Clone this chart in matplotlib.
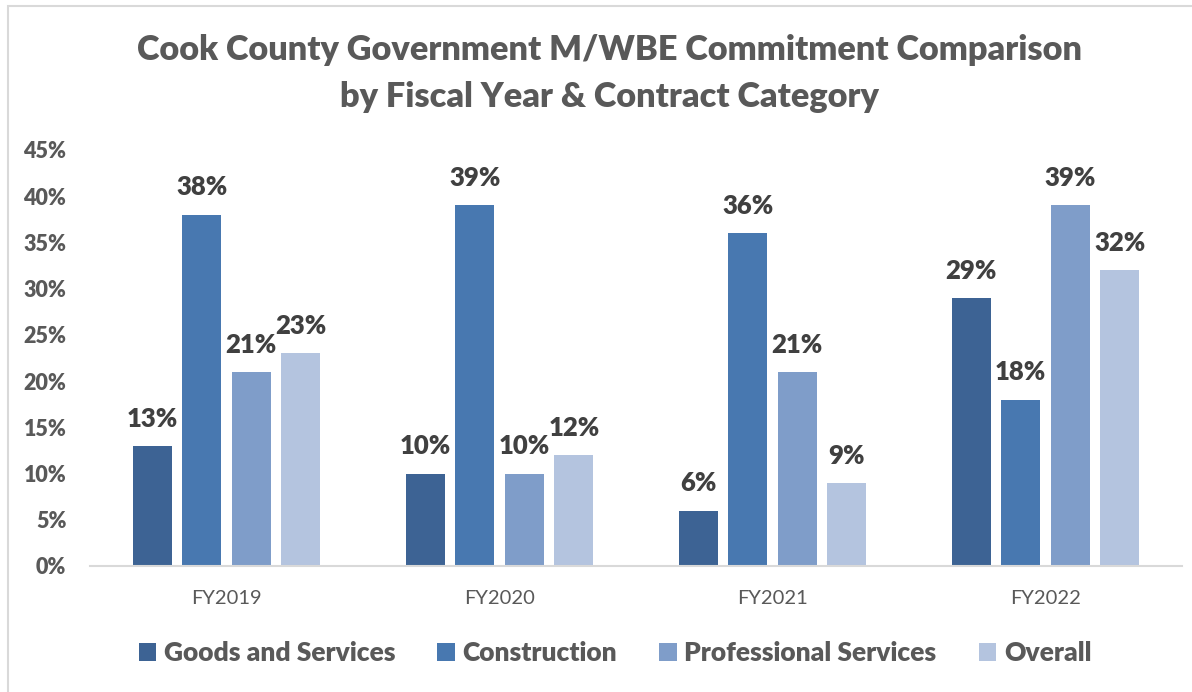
import numpy as np
import matplotlib
matplotlib.use('Agg')
import matplotlib.pyplot as plt
from matplotlib.patches import Patch, Rectangle

plt.rcParams['font.family'] = ['Lato', 'DejaVu Sans']

# Données du graphique
annees = ['FY2019', 'FY2020', 'FY2021', 'FY2022']
categories = ['Goods and Services', 'Construction', 'Professional Services', 'Overall']
goods = [13, 10, 6, 29]
construction = [38, 39, 36, 18]
professional = [21, 10, 21, 39]
overall = [23, 12, 9, 32]
couleurs = ['#3D6394', '#4878B0', '#7F9DC9', '#B4C4DF']

series = [goods, construction, professional, overall]

fig = plt.figure(figsize=(11.92, 6.92), dpi=100)
# bordure du graphique (seulement gauche et haut visibles)
fig.patches.append(Rectangle((8 / 1192, -0.05), 1.2, 1 - 6 / 692 + 0.05, transform=fig.transFigure,
                             fill=False, edgecolor='#D9D9D9', linewidth=1.5))

ax = fig.add_axes([90 / 1192, 1 - 566 / 692, 1092 / 1192, 416 / 692])

x = np.arange(len(annees))
largeur = 0.143
pas = 0.1815
for i, (vals, coul) in enumerate(zip(series, couleurs)):
    pos = x + (i - 1.5) * pas
    bars = ax.bar(pos, np.array(vals) / 100, width=largeur, color=coul, label=categories[i], zorder=2)
    for b, v in zip(bars, vals):
        ax.annotate(f'{v}%', (b.get_x() + b.get_width() / 2, b.get_height()),
                    xytext=(0, 11), textcoords='offset points', ha='center', va='bottom',
                    fontsize=18.5, fontweight='heavy', color='#404040')

ax.set_xlim(-0.5, 3.5)
ax.set_ylim(0, 0.45)
ax.set_yticks(np.arange(0, 0.46, 0.05))
ax.set_yticklabels([f'{int(round(t * 100))}%' for t in np.arange(0, 0.46, 0.05)],
                   fontsize=15.5, fontweight='heavy', color='#595959')
ax.set_xticks(x)
ax.set_xticklabels(annees, fontsize=14.5, color='#595959')
ax.tick_params(axis='both', length=0)
ax.tick_params(axis='y', pad=17)
ax.tick_params(axis='x', pad=17)
for s in ['top', 'right', 'left']:
    ax.spines[s].set_visible(False)
ax.spines['bottom'].set_color('#D9D9D9')
ax.spines['bottom'].set_linewidth(1.5)

fig.text(0.511, 1 - 50 / 692, 'Cook County Government M/WBE Commitment Comparison',
         ha='center', va='center', fontsize=24.7, fontweight='heavy', color='#595959')
fig.text(0.511, 1 - 97 / 692, 'by Fiscal Year & Contract Category',
         ha='center', va='center', fontsize=24.7, fontweight='heavy', color='#595959')

handles = [Patch(facecolor=c, edgecolor='none') for c in couleurs]
leg = fig.legend(handles, categories, loc='center', bbox_to_anchor=(615 / 1192, 1 - 653 / 692),
                 ncol=4, frameon=False, handlelength=0.65, handleheight=0.65, handletextpad=0.3,
                 columnspacing=1.6, prop={'size': 19, 'weight': 'heavy'})
for t in leg.get_texts():
    t.set_color('#595959')

plt.savefig('out.png', dpi=100)
